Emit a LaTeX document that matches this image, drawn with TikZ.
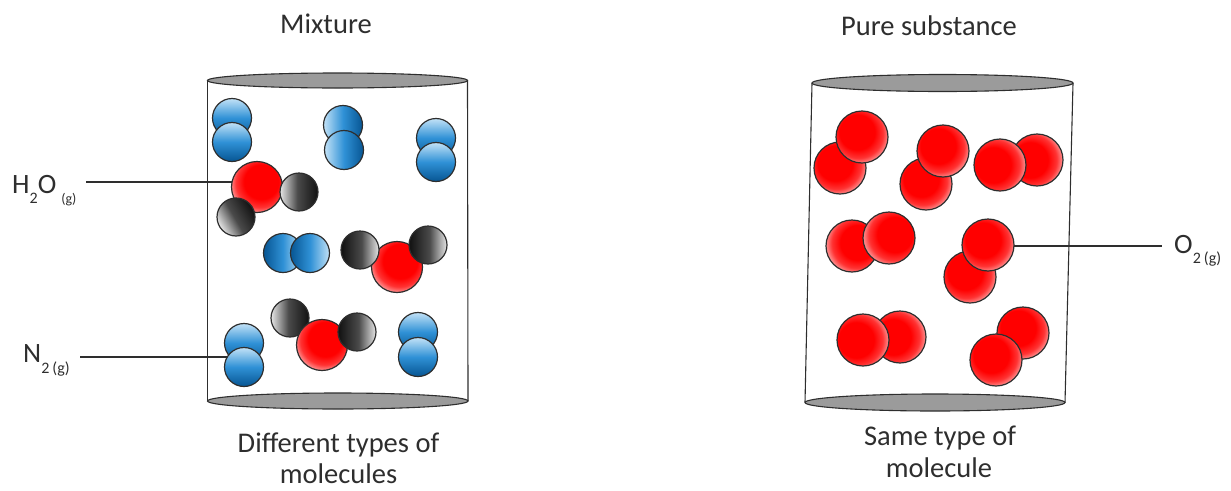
\documentclass[tikz,border=0pt]{standalone}
\usepackage{fontspec}
\setmainfont{Carlito}
\definecolor{ndark}{HTML}{0A5A98}
\definecolor{nmid}{HTML}{2F91D6}
\definecolor{nlight}{HTML}{C8E5F8}
\definecolor{hdark}{HTML}{151515}
\definecolor{hmid}{HTML}{4A4A4A}
\definecolor{hlight}{HTML}{EDEDED}
\definecolor{rimgray}{HTML}{9B9B9B}
\definecolor{inkgray}{HTML}{2E2E2E}
% ball shadings: the light side sits at the top (blue, grey) or bottom (red)
\pgfdeclareverticalshading{nball}{100bp}{color(0bp)=(ndark); color(27bp)=(ndark); color(50bp)=(nmid); color(76bp)=(nlight); color(100bp)=(nlight)}
\pgfdeclareverticalshading{hball}{100bp}{color(0bp)=(hdark); color(27bp)=(hdark); color(52bp)=(hmid); color(76bp)=(hlight); color(100bp)=(hlight)}
\pgfdeclareradialshading{oball}{\pgfpoint{0bp}{10bp}}{color(0bp)=(red); color(17bp)=(red); color(24bp)=(red!80!white); color(30bp)=(red!35!white); color(36bp)=(red!15!white); color(50bp)=(white)}
\begin{document}
\begin{tikzpicture}[x=1pt,y=-1pt,
  atom/.style={circle, draw=inkgray, line width=1.2pt, inner sep=0pt, outer sep=0pt},
  nat/.style={atom, minimum size=39pt, shading=nball, shading angle=#1},
  nat/.default=0,
  hat/.style={atom, minimum size=38pt, shading=hball, shading angle=#1},
  hat/.default=90,
  wox/.style={atom, minimum size=51pt, shading=oball, shading angle=#1},
  wox/.default=-40,
  oat/.style={atom, minimum size=52pt, shading=oball, shading angle=#1},
  oat/.default=45,
  wall/.style={draw=inkgray, line width=1.1pt},
  rim/.style={draw=inkgray, fill=rimgray, line width=1.1pt},
  leader/.style={draw=inkgray, line width=1.2pt},
  caption/.style={font=\fontsize{28.5}{31}\selectfont, text=inkgray, inner sep=0pt},
  formula/.style={font=\fontsize{28}{30}\selectfont, text=inkgray, inner sep=0pt}
]
\useasboundingbox (0,0) rectangle (1231,490);

% ---------- left cylinder: mixture ----------
\draw[wall] (207.5,80.5) -- (207.5,401);
\draw[wall] (467.5,80.5) -- (468,401);
\draw[rim] (337.75,401) ellipse [x radius=130.25, y radius=8];

% N2 molecules
\node[nat] (na1) at (232,118) {};
\node[nat] (na2) at (232,142) {};
\node[nat=90] (nb1) at (343,125) {};
\node[nat=90] (nb2) at (344,150) {};
\node[nat] (nc1) at (436,138) {};
\node[nat] (nc2) at (436,162) {};
\node[nat=-90] (nd1) at (283,253) {};
\node[nat=-90] (nd2) at (310,253) {};
\node[nat] (ne1) at (244,343) {};
\node[nat] (ne2) at (244,367) {};
\node[nat] (nf1) at (418,332) {};
\node[nat] (nf2) at (418,357) {};

% H2O molecules
\node[wox] (ow1) at (257,187) {};
\node[hat] (hw1a) at (299,192) {};
\node[hat=120] (hw1b) at (236,217) {};

\node[wox=-30] (ow2) at (397,267) {};
\node[hat=-90] (hw2a) at (360,250) {};
\node[hat=-90] (hw2b) at (428,245) {};

\node[hat] (hw3a) at (290,318) {};
\node[wox=-30] (ow3) at (322,345) {};
\node[hat=-90] (hw3b) at (357,332) {};

\draw[rim] (337.5,80.5) ellipse [x radius=130, y radius=7.5];

% ---------- right cylinder: pure substance ----------
\draw[wall] (812,83) -- (805,402.5);
\draw[wall] (1073,83) -- (1065,402.5);
\draw[rim] (935,402.5) ellipse [x radius=130, y radius=8.5];

% O2 molecules (back atom first)
\node[oat] (p1b) at (840,168) {};
\node[oat] (p1f) at (862,137) {};
\node[oat] (p2b) at (926,184) {};
\node[oat] (p2f) at (943,151) {};
\node[oat=90] (p3b) at (1037,160) {};
\node[oat=90] (p3f) at (1000,165) {};
\node[oat=-60] (p4b) at (852,246) {};
\node[oat=-60] (p4f) at (889,238) {};
\node[oat] (p5b) at (970,277) {};
\node[oat] (p5f) at (988,245) {};
\node[oat=90] (p6b) at (900,337) {};
\node[oat=90] (p6f) at (863,340) {};
\node[oat] (p7b) at (1023,333) {};
\node[oat] (p7f) at (996,360) {};

\draw[rim] (942.5,83) ellipse [x radius=130.5, y radius=8.5];

% ---------- titles and captions ----------
\node[caption, anchor=base] (mixtitle) at (326,33) {Mixture};
\node[caption, anchor=base] (puretitle) at (929,35) {Pure substance};
\node[caption, anchor=base] (mixcap1) at (338.5,452) {Different types of};
\node[caption, anchor=base] (mixcap2) at (338.5,483) {molecules};
\node[caption, anchor=base] (purecap1) at (940,445) {Same type of};
\node[caption, anchor=base] (purecap2) at (939,477) {molecule};

% ---------- formula labels with leader lines ----------
\node[formula, anchor=base west] (h2olabel) at (12,193)
  {H\raisebox{-10pt}{\fontsize{16}{16}\selectfont 2}O\hspace{5pt}\raisebox{-10pt}{\fontsize{14}{14}\selectfont (g)}};
\node[formula, anchor=base west] (n2label) at (23,362)
  {N\raisebox{-11pt}{\fontsize{16}{16}\selectfont 2\hspace{3pt}(g)}};
\node[formula, anchor=base west] (o2label) at (1174,253)
  {O\raisebox{-10pt}{\fontsize{16}{16}\selectfont 2\hspace{3pt}(g)}};

\coordinate (h2otip) at (86,182);
\coordinate (n2tip) at (80,357);
\coordinate (o2tip) at (1162,246);
\draw[leader] (h2otip) -- (h2otip -| ow1.west);
\draw[leader] (n2tip) -- (n2tip -| ne2.150);
\draw[leader] (p5f.east |- o2tip) -- (o2tip);
\end{tikzpicture}
\end{document}
